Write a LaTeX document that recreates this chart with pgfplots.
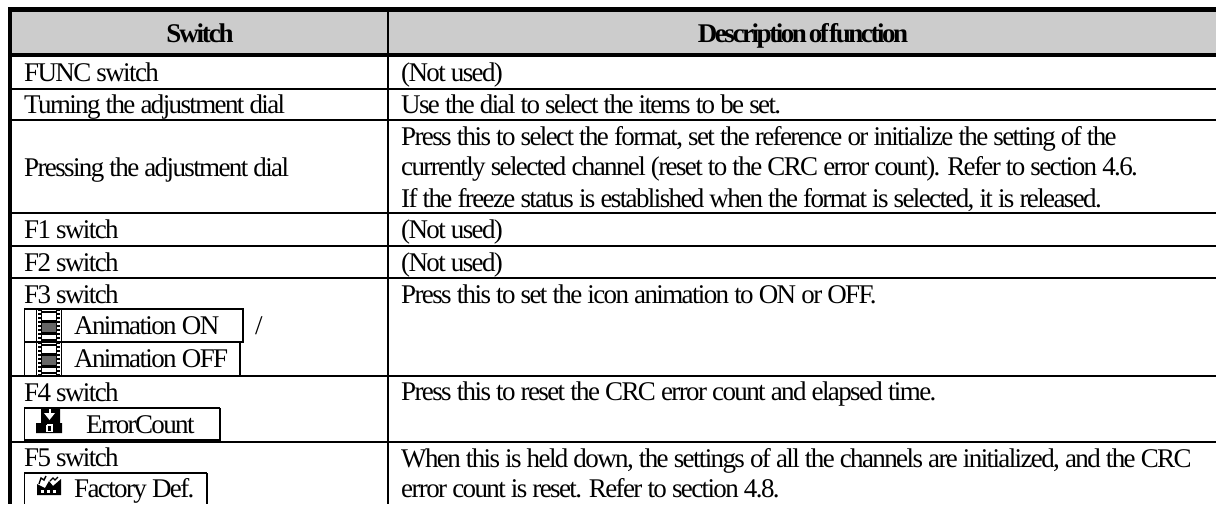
\documentclass[border=0pt]{standalone}
\usepackage{pgfplots}
\usepackage{fontspec}
\pgfplotsset{compat=1.18}
\setmainfont{Liberation Serif}
\newfontfamily\body[LetterSpace=-6]{Liberation Serif}
\newfontfamily\head[LetterSpace=-8,BoldFont={Liberation Serif Bold}]{Liberation Serif}
\newfontfamily\headtight[LetterSpace=-9,BoldFont={Liberation Serif Bold}]{Liberation Serif}
\newcommand{\T}[3]{\node[anchor=base west,inner sep=0pt,text=black] at (axis cs:#1,#2) {\fontsize{27}{31}\selectfont\body #3};}
\newcommand{\rulex}[4]{\addplot[black,line width=#4pt,forget plot] coordinates {(#1,#3) (#2,#3)};}
\newcommand{\ruley}[4]{\addplot[black,line width=#4pt,forget plot] coordinates {(#3,#1) (#3,#2)};}
\newcommand{\filmicon}[1]{%
 \addplot[black,line width=1.3pt,forget plot] coordinates {(36.6,#1) (36.6,#1+33)};
 \addplot[black,line width=1.3pt,forget plot] coordinates {(41.6,#1) (41.6,#1+33)};
 \addplot[black,line width=1.3pt,forget plot] coordinates {(56.4,#1) (56.4,#1+33)};
 \addplot[black,line width=1.3pt,forget plot] coordinates {(61.4,#1) (61.4,#1+33)};
 \addplot[black,line width=3pt,dash pattern=on 2pt off 2pt,forget plot] coordinates {(39.1,#1) (39.1,#1+33)};
 \addplot[black,line width=3pt,dash pattern=on 2pt off 2pt,forget plot] coordinates {(58.9,#1) (58.9,#1+33)};
 \addplot[black!60,fill=black!60,draw=none,forget plot] coordinates {(42,#1+12) (56,#1+12) (56,#1+24) (42,#1+24) (42,#1+12)};
 \addplot[black,line width=2.4pt,forget plot] coordinates {(42,#1+3) (56,#1+3)};
 \addplot[black,line width=3pt,forget plot] coordinates {(42,#1+12) (56,#1+12)};
 \addplot[black,line width=3pt,forget plot] coordinates {(42,#1+24) (56,#1+24)};
 \addplot[black,line width=2.4pt,forget plot] coordinates {(42,#1+31) (56,#1+31)};
}
\begin{document}
\begin{tikzpicture}[x=1pt,y=1pt]
\path[use as bounding box] (0,0) rectangle (1216pt,504pt);
\begin{axis}[at={(0,0)},anchor=south west,width=1216pt,height=504pt,scale only axis,hide axis,
  xmin=0,xmax=1216,ymin=0,ymax=504,y dir=reverse,clip=true]
\addplot[fill=black!20,draw=none,forget plot] coordinates {(10,10) (1216,10) (1216,55) (10,55) (10,10)};
% rules
\rulex{8}{1216}{9.5}{5}
\rulex{8}{1216}{55}{4}
\rulex{10}{1216}{88.5}{2}
\rulex{10}{1216}{119.5}{2}
\rulex{10}{1216}{213}{2}
\rulex{10}{1216}{245.5}{2}
\rulex{10}{1216}{277.5}{2}
\rulex{10}{1216}{375.5}{2}
\rulex{10}{1216}{442}{2}
\ruley{7}{504}{10}{4.5}
\ruley{7}{504}{388}{2}
% key boxes
\rulex{24}{244}{309}{2}
\rulex{24}{244}{342}{2}
\ruley{309}{375}{24.5}{1.5}
\ruley{309}{342}{243}{2}
\ruley{342}{375}{240}{2}
\rulex{24}{220}{408}{2}
\rulex{24}{220}{440}{2}
\ruley{408}{441}{24.5}{1.5}
\ruley{408}{441}{220}{2}
\rulex{24}{207}{473}{2}
\ruley{473}{504}{24.5}{1.5}
\ruley{473}{504}{207}{2}
% icons
\filmicon{309}
\filmicon{342}
\addplot[black,fill=black,draw=none,forget plot] coordinates {(41,409) (60,409) (60,423) (62,423) (62,433) (36,433) (36,423) (41,423) (41,409)};
\addplot[white,fill=white,draw=none,forget plot] coordinates {(44,413) (55,413) (49.5,420) (44,413)};
\addplot[white,line width=2pt,forget plot] coordinates {(49.5,409) (49.5,415)};
\addplot[white,line width=1.8pt,forget plot] coordinates {(47,425) (52,425) (52,431.5) (47,431.5) (47,425)};
\addplot[black,fill=black,draw=none,forget plot] coordinates {(37,495) (37,484) (45,488) (49,481) (53,486) (61,479) (61,495) (37,495)};
\addplot[black,line width=1.4pt,forget plot] coordinates {(39,484) (41,478) (44,480) (46,476)};
\addplot[black,line width=1.4pt,forget plot] coordinates {(50,481) (53,478) (55,480) (58,477)};
\addplot[white,line width=2.4pt,dash pattern=on 3pt off 3pt,forget plot] coordinates {(41,491.5) (58,491.5)};
% header
\node[anchor=base,inner sep=0pt] at (axis cs:200,42) {\fontsize{27}{31}\selectfont\head\bfseries Switch};
\node[anchor=base,inner sep=0pt] at (axis cs:803,42) {\fontsize{27}{31}\selectfont\headtight\bfseries Description\hspace{-2.5pt} of\hspace{-4pt} function};
% left column
\T{24}{81}{FUNC switch}
\T{24}{113}{Turning the adjustment dial}
\T{24}{176}{Pressing the adjustment dial}
\T{24}{238}{F1 switch}
\T{24}{271}{F2 switch}
\T{24}{303}{F3 switch}
\T{74}{334}{Animation ON}
\T{255}{334}{/}
\T{74}{367}{Animation OFF}
\T{24}{401}{F4 switch}
\T{86}{433}{ErrorCount}
\T{24}{466}{F5 switch}
\T{74}{497}{Factory Def.}
% right column
\T{401}{81}{(Not used)}
\T{401}{113}{Use the dial to select the items to be set.}
\T{401}{145}{Press this to select the format, set the reference or initialize the setting of the}
\T{401}{175}{currently selected channel (reset to the CRC error count). Refer to section 4.6.}
\T{401}{207}{If the freeze status is established when the format is selected, it is released.}
\T{401}{238}{(Not used)}
\T{401}{271}{(Not used)}
\T{401}{303}{Press this to set the icon animation to ON or OFF.}
\T{401}{400}{Press this to reset the CRC error count and elapsed time.}
\T{401}{467}{When this is held down, the settings of all the channels are initialized, and the CRC}
\T{401}{497}{error count is reset. Refer to section 4.8.}
\end{axis}
\end{tikzpicture}
\end{document}
